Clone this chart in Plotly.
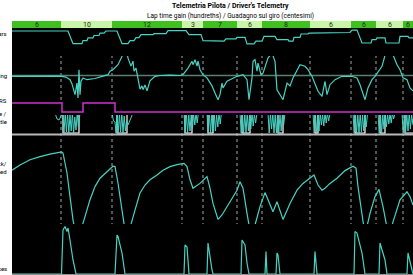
import numpy as np
import plotly.graph_objects as go

# ---------------- data (distance in m) ----------------
sector_lengths = [490, 510, 700, 210, 340, 250, 480, 410, 250, 270, 100]
sector_gain = ["6", "10", "12", "3", "7", "6", "8", "6", "6", "6", "6"]

gear_d = [0, 560, 610, 700, 710, 750, 760, 810, 820, 870, 880, 920, 940, 1050, 1100, 1160, 1180, 1220,
          1240, 1270, 1290, 1410, 1420, 1540, 1560, 1740, 1770, 1890, 1910, 1990, 2000, 2120, 2140, 2240,
          2250, 2330, 2350, 2420, 2440, 2500, 2520, 2630, 2650, 2760, 2770, 2810, 2820, 2880, 2890, 2960,
          2970, 3060, 3080, 3380, 3400, 3450, 3500, 3590, 3600, 3640, 3650, 3730, 3740, 3870, 3880, 3960,
          3970, 4010]
gear_v = [8, 8, 3.8, 3.8, 4.8, 4.8, 5.7, 5.7, 6.5, 6.5, 7.3, 7.3, 8, 8, 3.8, 3.8, 4.8, 4.8,
          5.8, 5.8, 6.8, 6.8, 7.1, 7.1, 8.1, 8.1, 6.8, 6.8, 4.8, 4.8, 4.6, 4.6, 5.4, 5.4,
          5.9, 5.9, 3.7, 3.7, 4.6, 4.6, 6.2, 6.2, 5.1, 5.1, 4.6, 4.6, 5.9, 5.9, 7, 7,
          7.3, 7.3, 7.5, 7.5, 8.3, 8.3, 4, 4, 5.1, 5.1, 5.7, 5.7, 4, 4, 6.2, 6.2,
          5.7, 5.7]

steer_d = [0, 280, 480, 540, 580, 600, 630, 650, 660, 670, 680, 690, 710, 750, 830, 910, 960, 980,
           1010, 1060, 1110, 1140, 1160, 1190, 1210, 1220, 1240, 1260, 1280, 1300, 1310, 1330, 1350,
           1380, 1430, 1480, 1580, 1680, 1710, 1760, 1800, 1810, 1830, 1850, 1860, 1880, 1910, 1950,
           2000, 2030, 2060, 2080, 2100, 2110, 2150, 2180, 2250, 2310, 2350, 2370, 2400, 2410, 2430,
           2450, 2460, 2490, 2510, 2560, 2600, 2630, 2650, 2680, 2710, 2750, 2780, 2810, 2850, 2880,
           2930, 2960, 3000, 3030, 3060, 3100, 3110, 3130, 3150, 3180, 3230, 3300, 3400, 3450, 3480,
           3510, 3530, 3560, 3600, 3630, 3700, 3750, 3780, 3810, 3850, 3880, 3910, 3950, 3980, 4010]
steer_v = [-4, -3, -3, -8, -21, -42, -96, -38, -112, 29, -96, -28, -12, -21, -15, -3, 4, 22,
           29, 54, 104, 137, 87, 47, 72, 22, 37, -12, -68, -52, -71, -47, -77,
           -27, -4, 0, 2, 0, 4, 37, 71, 54, 79, 47, 72, 29, 4, -12,
           -52, -87, -121, -96, -38, -62, -29, -21, -4, 4, -21, -121, -12, 71, 79,
           22, 62, 4, 12, 87, 112, 71, -71, -96, -121, -38, -52, -12, 29, 54,
           46, 29, -4, -38, -79, -104, -79, -29, -96, -46, -21, -4, -4, -12, -46,
           -87, -121, -62, -21, -4, 46, 137, 162, 104, 54, 29, -12, -21, -62, -77]

drs_d = [0, 500, 710, 1030, 4010]
drs_v = [1, 0, 1, 0, 0]

thr_ref_d = [0, 510, 670, 1050, 1150, 1730, 1800, 1960, 2010, 2300, 2380, 2660, 2710, 3030, 3060,
             3430, 3530, 3680, 3730, 3930, 4010]
thr_ref_v = [100, 0, 100, 0, 100, 0, 100, 0, 100, 0, 100, 0, 100, 0, 100, 0, 100, 0, 100, 0, 0]

thr_d = [0, 430, 450, 470, 490, 505,
         520, 532, 544, 556, 568, 580, 592, 604, 616, 628, 640, 652, 664, 680,
         1000, 1015, 1030, 1040, 1050, 1062, 1074, 1086, 1098, 1110, 1122, 1134, 1146, 1160, 1185, 1210,
         1720, 1732, 1744, 1756, 1768, 1780, 1792, 1804, 1816, 1828, 1840, 1852, 1864, 1880,
         1950, 1962, 1974, 1986, 1998, 2010, 2022, 2034, 2046, 2058, 2070, 2082, 2094,
         2280, 2292, 2304, 2316, 2328, 2340, 2352, 2364, 2376, 2388, 2400, 2412, 2424, 2436, 2450,
         2560, 2572, 2584, 2596, 2608, 2620, 2632, 2644, 2656, 2668, 2680, 2692, 2704, 2716, 2730,
         3010, 3022, 3034, 3046, 3058, 3070, 3082, 3094, 3106, 3118, 3130, 3142, 3154, 3166, 3180,
         3410, 3422, 3434, 3446, 3458, 3470, 3482, 3494, 3506, 3518, 3530, 3542, 3556,
         3660, 3672, 3684, 3696, 3708, 3720, 3732, 3744, 3756, 3768, 3780, 3792, 3804, 3816, 3830,
         3900, 3912, 3924, 3936, 3948, 3960, 3972, 3984, 3996, 4010]
thr_v = [100, 100, 70, 65, 85, 100,
         0, 100, 5, 100, 0, 90, 10, 100, 0, 80, 15, 100, 30, 100,
         100, 60, 55, 0, 100, 0, 95, 5, 100, 0, 85, 10, 60, 40, 70, 100,
         100, 0, 100, 0, 90, 10, 100, 20, 95, 40, 100, 50, 100, 100,
         100, 0, 100, 0, 90, 5, 100, 10, 90, 30, 100, 45, 100,
         100, 0, 100, 0, 95, 0, 100, 10, 90, 20, 100, 35, 95, 50, 100,
         100, 0, 100, 20, 100, 0, 90, 0, 100, 0, 95, 10, 100, 40, 100,
         100, 0, 100, 0, 90, 10, 100, 40, 95, 35, 100, 50, 100, 60, 100,
         100, 0, 100, 0, 95, 0, 100, 5, 90, 10, 100, 30, 100,
         100, 0, 100, 0, 90, 20, 100, 30, 95, 45, 100, 50, 100, 70, 100,
         100, 0, 100, 0, 95, 10, 100, 20, 90, 40]

speed_d = [0, 80, 180, 280, 380, 495, 510, 550, 580, 610, 650, 680, 730, 780, 830, 880, 950, 1010,
           1030, 1060, 1100, 1130, 1150, 1180, 1230, 1280, 1330, 1380, 1450, 1510, 1580, 1650, 1720,
           1750, 1780, 1810, 1880, 1950, 1980, 2010, 2060, 2100, 2180, 2250, 2280, 2310, 2350, 2390,
           2430, 2480, 2530, 2560, 2610, 2650, 2710, 2780, 2850, 2910, 2980, 3020, 3060, 3100, 3130,
           3180, 3250, 3330, 3410, 3440, 3460, 3500, 3530, 3580, 3630, 3670, 3710, 3770, 3810, 3880,
           3950, 3980, 4010]
speed_v = [262, 275, 288, 296, 302, 308, 305, 255, 196, 138, 88, 105, 146, 188, 221, 242, 258, 272,
           271, 230, 162, 112, 102, 118, 162, 205, 225, 238, 250, 262, 271, 276, 279,
           271, 238, 217, 229, 246, 217, 179, 139, 150, 183, 212, 233, 217, 154, 96,
           125, 171, 206, 188, 158, 183, 139, 179, 212, 229, 242, 250, 225, 212, 217,
           229, 242, 261, 272, 267, 221, 146, 100, 154, 196, 214, 171, 92, 133, 188,
           208, 196, 175]

brake_d = [0, 495, 510, 530, 550, 560, 580, 610, 640, 1030, 1050, 1060, 1100, 1130,
           1720, 1730, 1750, 1770, 1950, 1960, 2000, 2010, 2290, 2300, 2330, 2350, 2370,
           2530, 2540, 2550, 2640, 2650, 2660, 2680, 3020, 3030, 3050, 3420, 3430, 3450, 3500, 3530,
           3670, 3680, 3730, 3750, 3950, 3960, 4000, 4010]
brake_v = [0, 0, 88, 95, 85, 92, 68, 28, 0, 0, 78, 75, 42, 0,
           0, 58, 54, 0, 0, 62, 8, 0, 0, 68, 58, 22, 0,
           0, 45, 0, 0, 42, 38, 0, 0, 45, 0, 0, 85, 82, 42, 0,
           0, 62, 28, 0, 0, 42, 8, 0]

channel_labels = [("Gears", 33), ("Steering", 75), ("DRS", 100), ("Brake /", 113),
                  ("Throttle", 121.5), ("Track/", 163), ("Speed", 171), ("Brakes", 268)]

# ---------------- styling ----------------
W, H = 413, 275
CYAN = "#45d4c4"
MAG = "#d030d0"
DARK_G = "#40c020"
LIGHT_G = "#c8f5a8"
FONT = "Liberation Sans Narrow, Roboto"


def py(px):
    return (H - px) / H


bounds = np.concatenate([[0], np.cumsum(sector_lengths)])
centers = (bounds[:-1] + bounds[1:]) / 2
colors = [DARK_G if i % 2 == 0 else LIGHT_G for i in range(len(sector_lengths))]

fig = go.Figure()
fig.add_trace(go.Bar(x=centers, y=[1] * len(centers), width=sector_lengths, marker_color=colors,
                     marker_line_width=0, xaxis="x", yaxis="y7", hoverinfo="skip"))
fig.add_trace(go.Scatter(x=speed_d, y=speed_v, mode="lines", line=dict(color=CYAN, width=1.2),
                         xaxis="x", yaxis="y"))
fig.add_trace(go.Scatter(x=brake_d, y=brake_v, mode="lines", line=dict(color=CYAN, width=1.2),
                         xaxis="x", yaxis="y2"))
fig.add_trace(go.Scatter(x=thr_ref_d, y=thr_ref_v, mode="lines", line=dict(color="white", width=1.2, shape="hv"),
                         xaxis="x", yaxis="y3"))
fig.add_trace(go.Scatter(x=thr_d, y=thr_v, mode="lines", line=dict(color=CYAN, width=1),
                         xaxis="x", yaxis="y3"))
fig.add_trace(go.Scatter(x=drs_d, y=drs_v, mode="lines", line=dict(color=MAG, width=1.5, shape="hv"),
                         xaxis="x", yaxis="y4"))
fig.add_trace(go.Scatter(x=steer_d, y=steer_v, mode="lines", line=dict(color=CYAN, width=1.2),
                         xaxis="x", yaxis="y5"))
fig.add_trace(go.Scatter(x=gear_d, y=gear_v, mode="lines", line=dict(color=CYAN, width=1.2),
                         xaxis="x", yaxis="y6"))

shapes = [dict(type="rect", xref="paper", yref="paper", x0=0, x1=1, y0=0, y1=py(28),
               fillcolor="black", line_width=0, layer="below")]
for b in bounds[1:-1]:
    shapes.append(dict(type="line", xref="x", yref="paper", x0=b, x1=b, y0=py(274), y1=py(28),
                       line=dict(color="#a8a8a8", width=1, dash="dot"), layer="below"))
shapes.append(dict(type="line", xref="paper", yref="y5", x0=0, x1=1, y0=0, y1=0,
                   line=dict(color="#5d7f6f", width=1.5), layer="below"))
shapes.append(dict(type="line", xref="paper", yref="paper", x0=0, x1=1, y0=py(134.5), y1=py(134.5),
                   line=dict(color="#b8b8b8", width=2), layer="below"))
shapes.append(dict(type="line", xref="paper", yref="paper", x0=0, x1=1, y0=py(274), y1=py(274),
                   line=dict(color="#c4c4c4", width=1.5), layer="below"))

annotations = []
for c, lab in zip(centers, sector_gain):
    annotations.append(dict(x=c, y=0.5, xref="x", yref="y7", text=lab, showarrow=False,
                            xanchor="center", yanchor="middle",
                            font=dict(size=7, color="#1a2a1a", family=FONT)))
for lab, ypx in channel_labels:
    annotations.append(dict(x=0, y=py(ypx), xref="paper", yref="paper", text=lab, showarrow=False,
                            xanchor="right", yanchor="middle", xshift=-3,
                            font=dict(size=6, color="black", family=FONT)))
annotations.append(dict(x=(230 - 12) / 401, y=py(5.5), xref="paper", yref="paper",
                        text="<b>Telemetria Pilota / Driver's Telemetry</b>", showarrow=False,
                        xanchor="center", yanchor="middle",
                        font=dict(size=7, color="black", family=FONT)))
annotations.append(dict(x=(231 - 12) / 401, y=py(15.5), xref="paper", yref="paper",
                        text="Lap time gain (hundreths) / Guadagno sul giro (centesimi)", showarrow=False,
                        xanchor="center", yanchor="middle",
                        font=dict(size=6.5, color="black", family=FONT)))


def yax(dom, rng):
    return dict(domain=dom, range=rng, visible=False, showgrid=False, zeroline=False,
                anchor="x", fixedrange=True)


fig.update_layout(
    width=W, height=H, autosize=False,
    margin=dict(l=12, r=0, t=0, b=0),
    paper_bgcolor="white", plot_bgcolor="black",
    showlegend=False,
    xaxis=dict(domain=[0, 1], range=[0, float(bounds[-1])], visible=False, showgrid=False,
               zeroline=False, fixedrange=True),
    yaxis=yax([0, py(135)], [0, 350]),
    yaxis2=yax([py(274), py(224)], [0, 100]),
    yaxis3=yax([py(135), py(110)], [-10, 115]),
    yaxis4=yax([py(115), py(100)], [-0.333, 1.333]),
    yaxis5=yax([py(101), py(40)], [-127.5, 177.5]),
    yaxis6=yax([py(56), py(28)], [-0.333, 9]),
    yaxis7=yax([py(28), py(21)], [0, 1]),
    shapes=shapes, annotations=annotations,
)

fig.write_html("out.html", config={"displayModeBar": False})
